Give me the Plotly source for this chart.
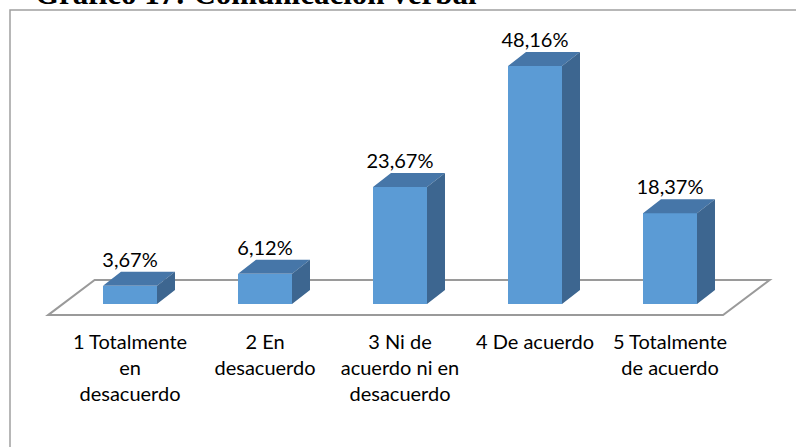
import plotly.graph_objects as go

# ---- data ----
categories = ["1 Totalmente<br>en<br>desacuerdo", "2 En<br>desacuerdo",
              "3 Ni de<br>acuerdo ni en<br>desacuerdo", "4 De acuerdo",
              "5 Totalmente<br>de acuerdo"]
values = [3.67, 6.12, 23.67, 48.16, 18.37]
value_labels = ["3,67%", "6,12%", "23,67%", "48,16%", "18,37%"]
title_text = "Gráfico 17: Comunicación verbal"

# ---- styling / geometry (data units) ----
W, H = 796, 447
PLOT_B = 119                      # bottom margin in px
plot_h = H - PLOT_B
x_range = [-130 / 135, (W - 130) / 135]
px_per_unit_y = 4.94
y_range = [-(plot_h - 304) / px_per_unit_y, 304 / px_per_unit_y]

bw = 0.4                         # bar width (category units)
dx = 18 / 135                    # depth offset x
dy = 14 / px_per_unit_y          # depth offset y
front_c, top_c, side_c = "#5B9BD5", "#4676A8", "#3D6690"

xs = list(range(len(values)))

fig = go.Figure()

# front faces
fig.add_trace(go.Bar(x=xs, y=values, width=bw, marker=dict(color=front_c, line=dict(width=0)),
                     hoverinfo="skip", showlegend=False))

# top and side faces
tx, ty, sx, sy = [], [], [], []
for x, v in zip(xs, values):
    l, r = x - bw / 2, x + bw / 2
    tx += [l, r, r + dx, l + dx, l, None]
    ty += [v, v, v + dy, v + dy, v, None]
    sx += [r, r + dx, r + dx, r, r, None]
    sy += [0, dy, v + dy, v, 0, None]
fig.add_trace(go.Scatter(x=tx, y=ty, fill="toself", fillcolor=top_c, mode="lines",
                         line=dict(width=0, color=top_c), hoverinfo="skip", showlegend=False))
fig.add_trace(go.Scatter(x=sx, y=sy, fill="toself", fillcolor=side_c, mode="lines",
                         line=dict(width=0, color=side_c), hoverinfo="skip", showlegend=False))

# value labels
fig.add_trace(go.Scatter(x=xs, y=[v + dy for v in values], mode="text", text=value_labels,
                         textposition="top center",
                         textfont=dict(family="Lato", size=20, color="#000000"),
                         hoverinfo="skip", showlegend=False))

# floor
fl, fr, skew = -0.607, 4.393, 0.345
ff, fb = -2.25, 4.85
fig.add_shape(type="path", xref="x", yref="y", layer="below",
              path=f"M {fl},{ff} L {fr},{ff} L {fr+skew},{fb} L {fl+skew},{fb} Z",
              line=dict(color="#9A9A9A", width=2), fillcolor="rgba(0,0,0,0)")

# chart border
fig.add_shape(type="rect", xref="paper", yref="paper",
              x0=10 / W, x1=1.05, y0=-(PLOT_B + 20) / plot_h, y1=(plot_h - 10) / plot_h,
              line=dict(color="#A0A0A0", width=1.5), fillcolor="rgba(0,0,0,0)", layer="below")

# title (cut at top as in the original)
fig.add_annotation(text="<b>" + title_text + "</b>", xref="paper", yref="paper",
                   x=33 / W, xanchor="left", y=(plot_h - 13) / plot_h, yanchor="bottom",
                   showarrow=False, font=dict(family="Liberation Serif", size=31, color="#000000"))

fig.update_layout(
    width=W, height=H,
    margin=dict(l=0, r=0, t=0, b=PLOT_B),
    paper_bgcolor="white", plot_bgcolor="rgba(0,0,0,0)",
    bargap=0,
    xaxis=dict(range=x_range, tickmode="array", tickvals=xs, ticktext=categories,
               showgrid=False, zeroline=False, showline=False, ticks="",
               tickfont=dict(family="Lato", size=20, color="#000000"), fixedrange=True),
    yaxis=dict(range=y_range, visible=False, showgrid=False, zeroline=False, fixedrange=True),
)

fig.write_html("out.html", config={"displayModeBar": False},
               post_script="document.body.style.margin='0';document.body.style.overflow='hidden';")
